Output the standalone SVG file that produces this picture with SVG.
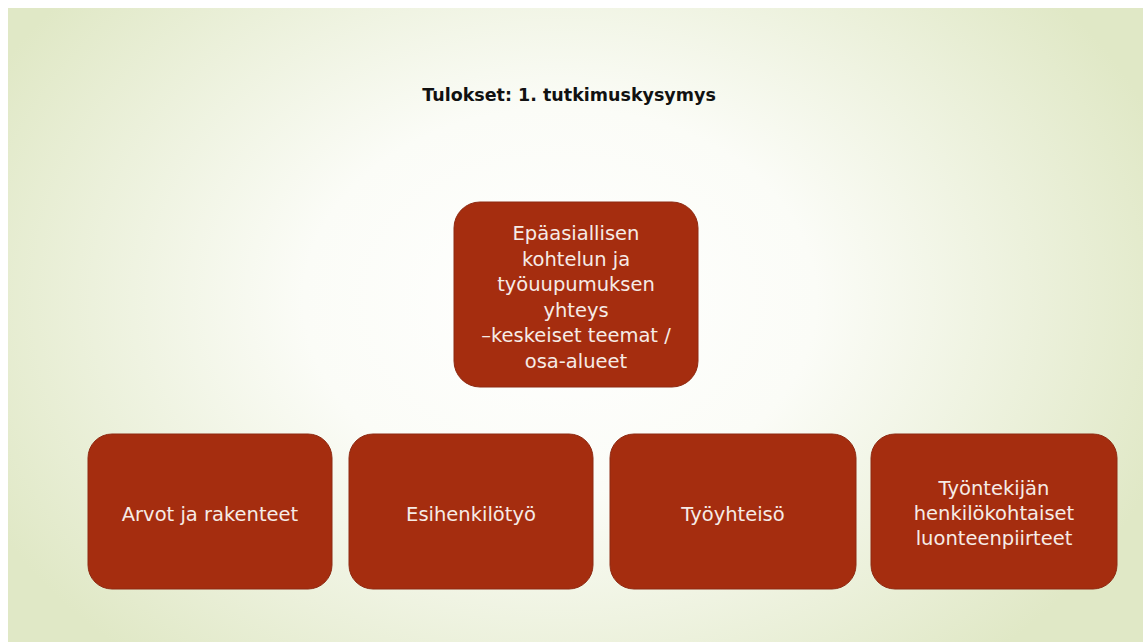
<svg xmlns="http://www.w3.org/2000/svg" width="1143" height="642" viewBox="0 0 1143 642">
<defs>
<radialGradient id="bg" cx="560" cy="300" r="640" gradientUnits="userSpaceOnUse" gradientTransform="translate(560 300) scale(1 0.75) translate(-560 -300)">
<stop offset="0" stop-color="#ffffff"/>
<stop offset="0.4" stop-color="#fbfcf7"/>
<stop offset="1" stop-color="#e0e8c6"/>
</radialGradient>
<style>
.box{fill:#a52d0f;stroke:#8e2a12;stroke-width:1}
.t{font-family:"DejaVu Sans","Liberation Sans",sans-serif;font-size:19.5px;fill:#f6ebe6;text-anchor:middle}
.title{font-family:"DejaVu Sans","Liberation Sans",sans-serif;font-size:17.5px;font-weight:bold;fill:#111;text-anchor:middle}
</style>
</defs>
<rect width="1143" height="642" fill="#ffffff"/>
<rect x="8" y="8" width="1135" height="634" fill="url(#bg)"/>
<text class="title" x="569" y="101">Tulokset: 1. tutkimuskysymys</text>
<g id="connectors"></g>
<g id="main">
<rect class="box" x="454" y="202" width="244" height="185" rx="26"/>
<text class="t" x="576" y="240">Epäasiallisen</text>
<text class="t" x="576" y="265.5">kohtelun ja</text>
<text class="t" x="576" y="291">työuupumuksen</text>
<text class="t" x="576" y="316.5">yhteys</text>
<text class="t" x="576" y="342">–keskeiset teemat /</text>
<text class="t" x="576" y="367.5">osa-alueet</text>
</g>
<g id="arvot">
<rect class="box" x="88" y="434" width="244" height="155" rx="24"/>
<text class="t" x="210" y="521">Arvot ja rakenteet</text>
</g>
<g id="esihenkilo">
<rect class="box" x="349" y="434" width="244" height="155" rx="24"/>
<text class="t" x="471" y="521">Esihenkilötyö</text>
</g>
<g id="tyoyhteiso">
<rect class="box" x="610" y="434" width="246" height="155" rx="24"/>
<text class="t" x="733" y="521">Työyhteisö</text>
</g>
<g id="tyontekija">
<rect class="box" x="871" y="434" width="246" height="155" rx="24"/>
<text class="t" x="994" y="495">Työntekijän</text>
<text class="t" x="994" y="520">henkilökohtaiset</text>
<text class="t" x="994" y="545">luonteenpiirteet</text>
</g>
</svg>
